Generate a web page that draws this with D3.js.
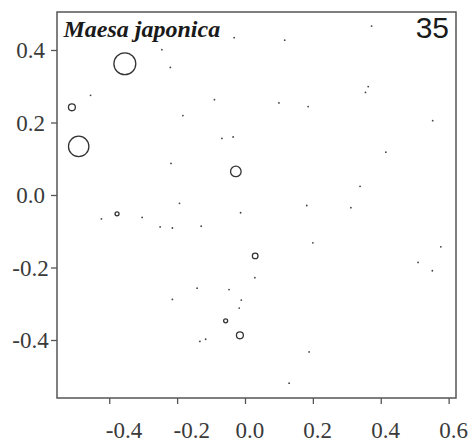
<!DOCTYPE html>
<html>
<head>
<meta charset="utf-8">
<script src="https://cdn.jsdelivr.net/npm/d3@7"></script>
<style>
  html, body { margin: 0; padding: 0; background: #fff; }
  svg { display: block; }
</style>
</head>
<body>
<svg id="chart" width="476" height="439"></svg>
<script>
// Ordination scores of the sampling sites (axis 1, axis 2)
const siteX = [
  -0.354, -0.245, -0.220, -0.455, -0.510, -0.183, -0.490, -0.218, -0.193, -0.032,
   0.117, -0.090,  0.100,  0.186, -0.068, -0.035, -0.027,  0.182,  0.373,  0.363,
   0.355,  0.553,  0.415,  0.339,  0.312, -0.423, -0.377, -0.303, -0.250, -0.214,
  -0.214, -0.013, -0.129,  0.200,  0.030,  0.029, -0.141, -0.047, -0.011, -0.017,
  -0.057, -0.015, -0.133, -0.116,  0.189,  0.130,  0.577,  0.510,  0.552
];
const siteY = [
   0.362,  0.401,  0.352,  0.275,  0.242,  0.219,  0.134,  0.087, -0.023,  0.434,
   0.427,  0.263,  0.254,  0.244,  0.156,  0.160,  0.065, -0.029,  0.466,  0.299,
   0.283,  0.205,  0.118,  0.024, -0.035, -0.066, -0.052, -0.062, -0.088, -0.091,
  -0.288, -0.049, -0.086, -0.132, -0.168, -0.228, -0.257, -0.261, -0.290, -0.312,
  -0.347, -0.387, -0.404, -0.398, -0.433, -0.519, -0.143, -0.186, -0.209
];
// Number of individuals of the species recorded at each site (0 = absent)
const abundance = [
  30, 0, 0, 0, 3, 0, 26, 0, 0, 0,
   0, 0, 0, 0, 0, 0, 7, 0, 0, 0,
   0, 0, 0, 0, 0, 0, 1, 0, 0, 0,
   0, 0, 0, 0, 2, 0, 0, 0, 0, 0,
   1, 3, 0, 0, 0, 0, 0, 0, 0
];

const xTickValues = [-0.4, -0.2, 0.0, 0.2, 0.4, 0.6];
const xTickLabels = ["-0.4", "-0.2", "0.0", "0.2", "0.4", "0.6"];
const yTickValues = [0.4, 0.2, 0.0, -0.2, -0.4];
const yTickLabels = ["0.4", "0.2", "0.0", "-0.2", "-0.4"];

const speciesName = "Maesa japonica";
const panelNumber = "35";

const svg = d3.select("#chart");
const plot = { left: 57, top: 12, right: 456, bottom: 398 };

const x = d3.scaleLinear().domain([-0.5539, 0.6217]).range([plot.left, plot.right]);
const y = d3.scaleLinear().domain([-0.560, 0.5048]).range([plot.bottom, plot.top]);
const r = d3.scaleSqrt().domain([0, 30]).range([0, 10.95]);

const frameColor = "#555";
const textColor = "#3a3a3a";

// Left axis: ticks only, labels centred in the margin
const yAxis = d3.axisLeft(y).tickValues(yTickValues).tickSize(6).tickSizeOuter(0)
  .tickFormat((d, i) => yTickLabels[i]);
const gy = svg.append("g").attr("transform", `translate(${plot.left},0)`).call(yAxis);
gy.select(".domain").remove();
gy.selectAll(".tick line").attr("stroke", frameColor).attr("stroke-width", 1.3);
gy.selectAll(".tick text")
  .attr("x", 30.5 - plot.left).attr("dy", null).attr("y", 8)
  .attr("text-anchor", "middle")
  .attr("fill", textColor)
  .style("font-family", "'Liberation Serif', 'Times New Roman', serif")
  .style("font-size", "23px");

// Bottom axis
const xAxis = d3.axisBottom(x).tickValues(xTickValues).tickSize(6).tickSizeOuter(0)
  .tickFormat((d, i) => xTickLabels[i]);
const gx = svg.append("g").attr("transform", `translate(0,${plot.bottom})`).call(xAxis);
gx.select(".domain").remove();
gx.selectAll(".tick line").attr("stroke", frameColor).attr("stroke-width", 1.3);
gx.selectAll(".tick text")
  .attr("dy", null).attr("y", 40)
  .attr("x", d => (d < 0 ? -4 : -10))
  .attr("text-anchor", "start")
  .attr("fill", textColor)
  .style("font-family", "'Liberation Serif', 'Times New Roman', serif")
  .style("font-size", "23px");

// Panel frame
svg.append("rect")
  .attr("x", plot.left).attr("y", plot.top)
  .attr("width", plot.right - plot.left).attr("height", plot.bottom - plot.top)
  .attr("fill", "none").attr("stroke", frameColor).attr("stroke-width", 1.5);

// Sites
const sites = siteX.map((v, i) => ({ x: v, y: siteY[i], n: abundance[i] }));

svg.append("g").selectAll("circle.site")
  .data(sites.filter(d => d.n === 0))
  .join("circle")
  .attr("class", "site")
  .attr("cx", d => x(d.x)).attr("cy", d => y(d.y))
  .attr("r", 0.9)
  .attr("fill", "#444");

svg.append("g").selectAll("circle.occ")
  .data(sites.filter(d => d.n > 0))
  .join("circle")
  .attr("class", "occ")
  .attr("cx", d => x(d.x)).attr("cy", d => y(d.y))
  .attr("r", d => r(d.n))
  .attr("fill", "none")
  .attr("stroke", "#333")
  .attr("stroke-width", 1.3);

// Species name and panel number
svg.append("text")
  .attr("x", 63.5).attr("y", 36.5)
  .attr("fill", "#1a1a1a")
  .style("font-family", "'Liberation Serif', 'Times New Roman', serif")
  .style("font-style", "italic").style("font-weight", "bold")
  .style("font-size", "24px")
  .text(speciesName);

svg.append("text")
  .attr("x", 449).attr("y", 38)
  .attr("text-anchor", "end")
  .attr("fill", "#1a1a1a")
  .style("font-family", "'Liberation Sans', Arial, sans-serif")
  .style("font-size", "30px")
  .text(panelNumber);
</script>
</body>
</html>
